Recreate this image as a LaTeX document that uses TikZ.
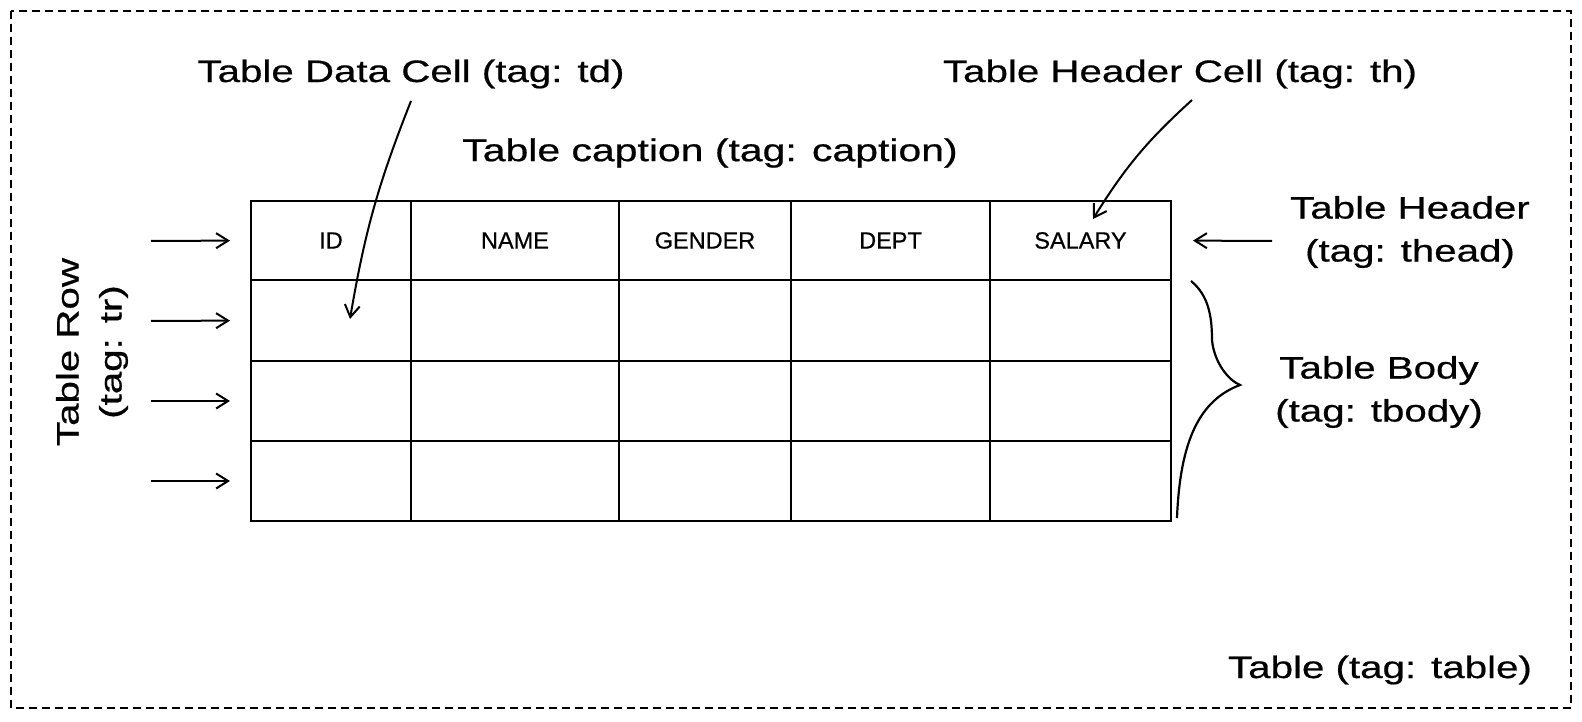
\documentclass[tikz,border=0pt]{standalone}
\usepackage{fontspec}
\newfontfamily\hand[FakeStretch=1.3,FakeBold=0.6]{Liberation Sans}
\newfontfamily\headfont[FakeBold=0.5]{Liberation Sans}
\usetikzlibrary{arrows.meta}
\begin{document}
\begin{tikzpicture}[x=1pt,y=-1pt,
  lbl/.style={font=\hand\fontsize{31}{43}\selectfont, align=center, inner sep=0pt},
  captxt/.style={font=\hand\fontsize{31.5}{40}\selectfont, inner sep=0pt},
  hcell/.style={draw, line width=2.3pt, font=\headfont\fontsize{23.5}{28}\selectfont, inner sep=0pt, outer sep=0pt, anchor=north west},
  bcell/.style={draw, line width=2.3pt, inner sep=0pt, outer sep=0pt, anchor=north west},
  arr/.style={line width=2pt, -{Straight Barb[length=12pt,width=15pt,line width=2pt]}},
  frame/.style={draw, line width=2.2pt, dash pattern=on 8pt off 5pt},
  bracepath/.style={line width=2.2pt}]
\useasboundingbox (0,0) rectangle (1582,722);
\fill[white] (0,0) rectangle (1582,722);
% outer table frame
\draw[frame] (11,11) rectangle (1571,708);
\node[lbl] (tablelbl) at (1380,670) {Table (tag: table)};

% cells
\foreach \x/\w/\n/\t in {251/160/1/ID, 411/208/2/NAME, 619/172/3/GENDER, 791/199/4/DEPT, 990/181/5/SALARY}{
  \node[hcell, minimum width=\w pt, minimum height=79pt] (h\n) at (\x,201) {\t};
  \foreach \r/\y/\hh in {1/280/81, 2/361/80, 3/441/80}{
    \node[bcell, minimum width=\w pt, minimum height=\hh pt] (b\n-\r) at (\x,\y) {};
  }
}

% caption
\node[captxt] (caption) at (710,153) {Table caption (tag: caption)};

% data cell label
\node[lbl] (dclbl) at (411,74) {Table Data Cell (tag: td)};
\coordinate (dcA) at (411,101);
\coordinate (dcB) at (350,319);
\draw[arr] (dcA) to[bend right=6] (dcB);

% header cell label
\node[lbl] (thclbl) at (1180,74) {Table Header Cell (tag: th)};
\coordinate (thcA) at (1192,100);
\coordinate (thcB) at (1093,219);
\draw[arr] (thcA) to[bend right=8] (thcB);

% thead label
\node[lbl] (theadlbl) at (1410,232) {Table Header\\(tag: thead)};
\coordinate (thA) at (1272,241);
\draw[arr, shorten >=22pt] (thA) -- (h5.east);

% tbody label and brace
\node[lbl] (tbodylbl) at (1379,392) {Table Body\\(tag: tbody)};
\coordinate (br1) at (1191,281);
\coordinate (brm) at (1240,385);
\coordinate (br2) at (1177,518);
\draw[bracepath] (br1) .. controls (1208,295) and (1212,315) .. (1212,340)
  .. controls (1214,362) and (1228,380) .. (brm)
  .. controls (1200,400) and (1180,440) .. (br2);

% row label and arrows
\node[lbl, rotate=90] (rowlbl) at (92,352) {Table Row\\(tag: tr)};
\coordinate (ra1) at (151,241);
\coordinate (ra2) at (151,321);
\coordinate (ra3) at (151,401);
\coordinate (ra4) at (151,481);
\draw[arr, shorten >=21pt] (ra1) -- (h1.west);
\draw[arr, shorten >=21pt] (ra2) -- (b1-1.west);
\draw[arr, shorten >=21pt] (ra3) -- (b1-2.west);
\draw[arr, shorten >=21pt] (ra4) -- (b1-3.west);
\end{tikzpicture}
\end{document}
